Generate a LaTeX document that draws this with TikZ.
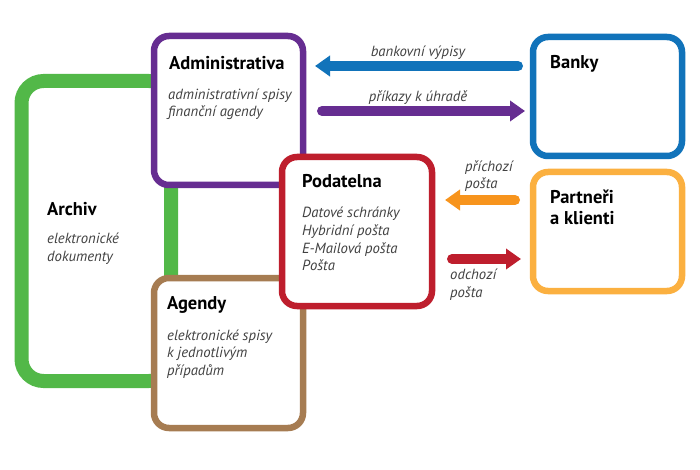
\documentclass[tikz,border=0pt]{standalone}
\usepackage{fontspec}
\setmainfont{PT Sans}
\usetikzlibrary{arrows.meta,calc}
\definecolor{cgreen}{HTML}{52B848}
\definecolor{cpurple}{HTML}{662D91}
\definecolor{cbrown}{HTML}{A67C52}
\definecolor{cred}{HTML}{BE1E2D}
\definecolor{cblue}{HTML}{1173BA}
\definecolor{corange}{HTML}{FBB040}
\definecolor{corarrow}{HTML}{F7941D}
\definecolor{cgray}{HTML}{414141}
\begin{document}
\begin{tikzpicture}[x=1pt,y=-1pt,
  box/.style={draw,fill=white,rectangle,inner sep=0pt,outer sep=0pt,line width=6.5pt,rounded corners=15pt},
  ttl/.style={anchor=base west,inner sep=0pt,font=\bfseries\fontsize{18.5}{21}\selectfont,text=black},
  sub/.style={anchor=base west,inner sep=0pt,font=\itshape\fontsize{14.7}{17}\selectfont,text=cgray},
  lbl/.style={anchor=base,inner sep=0pt,font=\itshape\fontsize{14.7}{17}\selectfont,text=cgray},
  arr/.style={line width=10pt,line cap=round,-{Triangle[length=15pt,width=20pt]}}]
\path[use as bounding box] (0,0) rectangle (700,470);
% boxes
\node[box,draw=cgreen,line width=14pt,rounded corners=22pt,minimum width=149.5pt,minimum height=300pt] (archiv) at (96.25,231) {};
\node[box,draw=cbrown,minimum width=149pt,minimum height=150pt] (agendy) at (228.5,353) {};
\node[box,draw=cpurple,minimum width=149pt,minimum height=149pt] (admin) at (228.5,110.5) {};
\node[box,draw=cred,minimum width=150pt,minimum height=149pt] (pod) at (357,231.5) {};
\node[box,draw=cblue,minimum width=149pt,minimum height=119pt] (banky) at (607.5,96.5) {};
\node[box,draw=corange,minimum width=149pt,minimum height=119pt] (partner) at (607.5,231.5) {};
% arrows
\draw[arr,cblue] ($(banky.west |- 0,66)+(-15,0)$) -- ($(admin.east |- 0,66)+(12,0)$);
\draw[arr,cpurple] ($(admin.east |- 0,111)+(19,0)$) -- ($(banky.west |- 0,111)+(-8,0)$);
\draw[arr,corarrow] ($(partner.west |- 0,200)+(-18,0)$) -- ($(pod.east |- 0,200)+(13,0)$);
\draw[arr,cred] ($(pod.east |- 0,259)+(20,0)$) -- ($(partner.west |- 0,259)+(-12,0)$);
% texts
\node[ttl] (t1) at (169,70) {Administrativa};
\node[sub] (s11) at (168,100) {administrativní spisy};
\node[sub] (s12) at (168,117) {finanční agendy};
\node[ttl] (t2) at (47,215) {Archiv};
\node[sub] (s21) at (47,243) {elektronické};
\node[sub] (s22) at (47,261) {dokumenty};
\node[ttl] (t3) at (167,309) {Agendy};
\node[sub] (s31) at (167,340) {elektronické spisy};
\node[sub] (s32) at (167,357.5) {k jednotlivým};
\node[sub] (s33) at (167,375) {případům};
\node[ttl] (t4) at (302,188) {Podatelna};
\node[sub] (s41) at (302,218) {Datové schránky};
\node[sub] (s42) at (302,235.5) {Hybridní pošta};
\node[sub] (s43) at (302,253) {E-Mailová pošta};
\node[sub] (s44) at (302,270.5) {Pošta};
\node[ttl] (t5) at (550,69) {Banky};
\node[ttl] (t6) at (550,204) {Partneři};
\node[ttl] (t7) at (550,224) {a klienti};
\node[lbl] (l1) at (418,57) {bankovní výpisy};
\node[lbl] (l2) at (418,102) {příkazy k úhradě};
\node[sub] (l3) at (465,172) {příchozí};
\node[sub] (l4) at (465,189) {pošta};
\node[sub] (l5) at (450,279) {odchozí};
\node[sub] (l6) at (450,297) {pošta};
\end{tikzpicture}
\end{document}
